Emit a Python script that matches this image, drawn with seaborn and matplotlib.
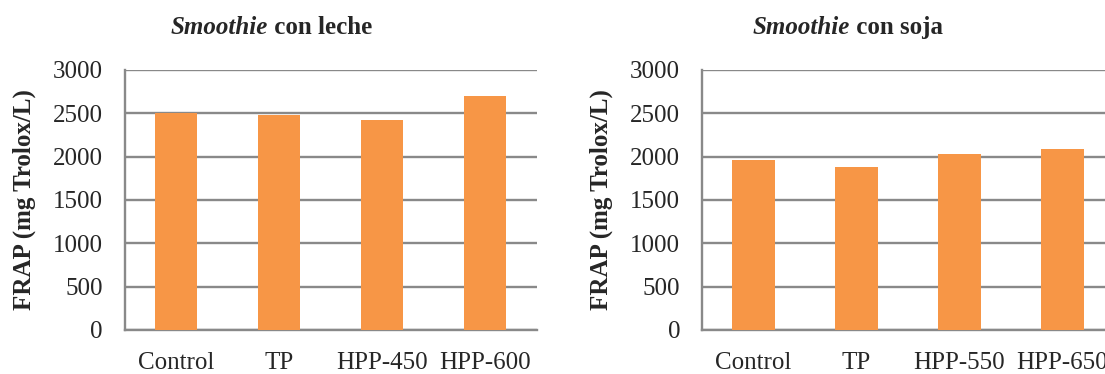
import matplotlib
matplotlib.use("Agg")
import matplotlib.pyplot as plt
import seaborn as sns
import pandas as pd

# FRAP antioxidant capacity (mg Trolox/L) per treatment
leche_labels = ["Control", "TP", "HPP-450", "HPP-600"]
leche_frap = [2505, 2485, 2423, 2700]

soja_labels = ["Control", "TP", "HPP-550", "HPP-650"]
soja_frap = [1961, 1881, 2031, 2088]

y_ticks = [0, 500, 1000, 1500, 2000, 2500, 3000]
y_label = "FRAP (mg Trolox/L)"

sns.set_style("white")
plt.rcParams["font.family"] = ["Liberation Serif", "DejaVu Serif"]

BAR = "#F79646"
GRID = "#898989"
FS = 18

fig = plt.figure(figsize=(11.05, 3.74), dpi=100)
ax_l = fig.add_axes([124.5 / 1105, 44 / 374, 412 / 1105, 260 / 374])
ax_r = fig.add_axes([702 / 1105, 44 / 374, 412 / 1105, 260 / 374])


def draw(ax, labels, values, subtitle, junction_x, ylab_x):
    df = pd.DataFrame({"trat": labels, "frap": values})
    sns.barplot(data=df, x="trat", y="frap", color=BAR, saturation=1,
                width=0.41, linewidth=0, edgecolor=BAR, ax=ax, zorder=3)
    ax.set_xlim(-0.5, len(labels) - 0.5)
    ax.set_ylim(0, 3000)
    ax.set_yticks(y_ticks)
    ax.set_yticklabels([str(v) for v in y_ticks], fontsize=FS)
    ax.yaxis.grid(True, color=GRID, linewidth=1.7, zorder=0)
    ax.set_axisbelow(True)
    for s in ("top", "right"):
        ax.spines[s].set_visible(False)
    for s in ("left", "bottom"):
        ax.spines[s].set_color(GRID)
        ax.spines[s].set_linewidth(1.7)
    # category boundary ticks under the x axis
    ax.set_xticks([i - 0.5 for i in range(len(labels) + 1)], minor=True)
    ax.tick_params(axis="x", which="minor", length=4.5, width=1.7,
                   color=GRID, direction="out")
    ax.tick_params(axis="x", which="major", length=0, pad=15.5,
                   labelsize=FS)
    ax.tick_params(axis="y", length=4.8, width=1.7, color=GRID,
                   direction="out", pad=11)
    ax.set_xlabel("")
    ax.set_ylabel(y_label, fontsize=FS, fontweight="bold")
    ax.yaxis.set_label_coords(ylab_x, 0.5)
    fig.text(junction_x, 1 - 34 / 374, "Smoothie", fontsize=FS,
             fontweight="bold", style="italic", ha="right", va="baseline")
    fig.text(junction_x, 1 - 34 / 374, " " + subtitle, fontsize=FS,
             fontweight="bold", ha="left", va="baseline")


draw(ax_l, leche_labels, leche_frap, "con leche", 268 / 1105, -0.215)
draw(ax_r, soja_labels, soja_frap, "con soja", 850 / 1105, -0.217)

fig.savefig("out.png", dpi=100)
